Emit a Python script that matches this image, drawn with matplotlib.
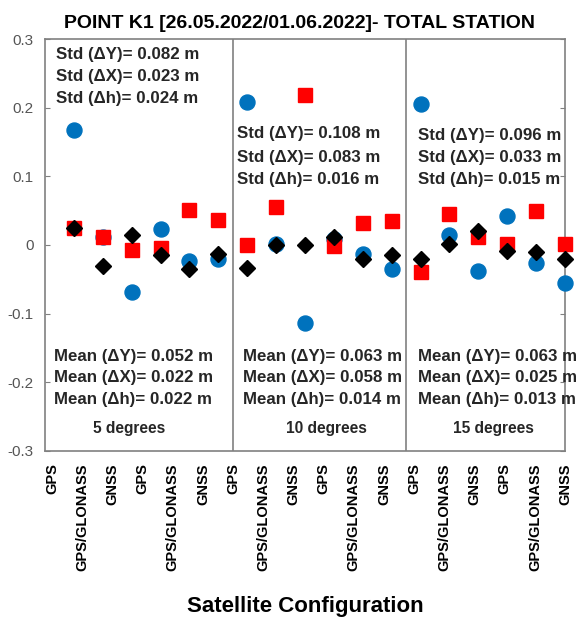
import matplotlib.pyplot as plt
import numpy as np

# offsets per configuration (3 elevation masks x [GPS, GPS/GLONASS, GNSS] x 2)
tick_names = ['GPS', 'GPS/GLONASS', 'GNSS'] * 6
dY = [0.167, 0.011, -0.069, 0.023, -0.024, -0.021,
      0.209, 0.001, -0.114, 0.008, -0.013, -0.035,
      0.206, 0.015, -0.038, 0.042, -0.026, -0.055]
dX = [0.025, 0.011, -0.007, -0.004, 0.051, 0.036,
      0.000, 0.056, 0.219, -0.002, 0.032, 0.035,
      -0.040, 0.045, 0.012, 0.001, 0.049, 0.001]
dh = [0.025, -0.031, 0.015, -0.014, -0.035, -0.013,
      -0.034, 0.000, 0.000, 0.012, -0.020, -0.015,
      -0.020, 0.001, 0.020, -0.009, -0.010, -0.020]

sections = ['5 degrees', '10 degrees', '15 degrees']
std_text = [['0.082', '0.023', '0.024'],
            ['0.108', '0.083', '0.016'],
            ['0.096', '0.033', '0.015']]
mean_text = [['0.052', '0.022', '0.022'],
             ['0.063', '0.058', '0.014'],
             ['0.063', '0.025', '0.013']]

plt.rcParams['font.family'] = ['Liberation Sans', 'DejaVu Sans']

fig = plt.figure(figsize=(5.76, 6.21), dpi=100)
ax = fig.add_axes([0.078, 0.274, 0.903, 0.663])

x = np.arange(1, len(dY) + 1)
ax.plot(x, dY, 'o', color='#0072BD', markersize=10.8, clip_on=False, zorder=3)
ax.plot(x, dX, 's', color='#FF0000', markersize=9.6, clip_on=False, zorder=4)
ax.plot(x, dh, 'D', color='black', markersize=8.5, clip_on=False, zorder=5)

grey = '#808080'
for xv in [6.5, 12.5]:
    ax.axvline(xv, color=grey, lw=1.2, zorder=1)

ax.set_xlim(0, 18)
ax.set_ylim(-0.3, 0.3)
ax.set_yticks(np.arange(-3, 4) / 10)
ax.set_yticklabels(['-0.3', '-0.2', '-0.1', '0', '0.1', '0.2', '0.3'])
ax.set_xticks(np.linspace(0.25, 18.0, 18))
ax.set_xticklabels(tick_names, rotation=90, fontweight='bold', fontsize=10.5)
ax.tick_params(axis='x', length=0, pad=9)
ax.tick_params(axis='y', direction='in', right=True, length=3.5, color=grey,
               labelcolor='#555555', labelsize=11, pad=8)
for sp in ax.spines.values():
    sp.set_color(grey)
    sp.set_linewidth(1.2)

txt = dict(fontsize=12.2, fontweight='bold', color='#262626', va='center', zorder=6)
std_x = [0.38, 6.66, 12.92]
std_y = [[0.277, 0.245, 0.213], [0.162, 0.128, 0.096], [0.159, 0.127, 0.096]]
mean_x = [0.31, 6.84, 12.92]
mean_y = [-0.162, -0.193, -0.225]
deg_x = [2.92, 9.75, 15.52]
comp = ['\u0394Y', '\u0394X', '\u0394h']
for k in range(3):
    for j in range(3):
        ax.text(std_x[k], std_y[k][j], 'Std (%s)= %s m' % (comp[j], std_text[k][j]), **txt)
        ax.text(mean_x[k], mean_y[j], 'Mean (%s)= %s m' % (comp[j], mean_text[k][j]), **txt)
    ax.text(deg_x[k], -0.267, sections[k], fontsize=11.2, fontweight='bold',
            color='#262626', ha='center', va='center')

ax.set_title('POINT K1 [26.05.2022/01.06.2022]- TOTAL STATION', fontsize=14,
             fontweight='bold', x=0.49, pad=8)
ax.set_xlabel('Satellite Configuration', fontsize=16, fontweight='bold', labelpad=18)

plt.savefig('out.png', dpi=100)
